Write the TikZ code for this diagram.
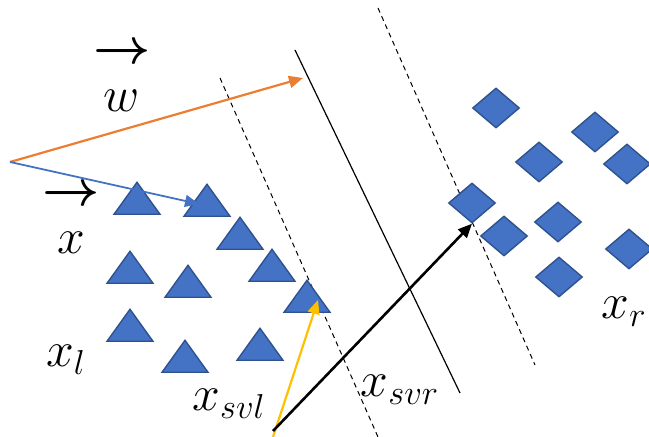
\documentclass[tikz,border=0pt]{standalone}
\usepackage{amsmath, amssymb}
\usetikzlibrary{positioning,arrows.meta,calc,shapes.geometric}
\definecolor{ppblue}{HTML}{4472C4}
\definecolor{ppedge}{HTML}{2F528F}
\definecolor{pporange}{HTML}{ED7D31}
\definecolor{ppyellow}{HTML}{FFC000}
\tikzset{
  vecarrow/.style={-{Triangle[length=7pt, width=6pt]}, line width=1.1pt},
  triclass/.style={draw=ppedge, fill=ppblue, line width=0.7pt, isosceles triangle, isosceles triangle stretches, shape border rotate=90, minimum width=23pt, minimum height=16pt, inner sep=0pt, anchor=lower side},
  diaclass/.style={draw=ppedge, fill=ppblue, line width=0.7pt, diamond, minimum width=23.5pt, minimum height=20pt, inner sep=0pt},
  marginline/.style={dashed, line width=0.5pt, dash pattern=on 2.5pt off 2pt},
  mathlabel/.style={font=\fontsize{25}{28}\selectfont, inner sep=0pt, align=center}
}
\begin{document}
\begin{tikzpicture}[x=0.5pt, y=-0.5pt]
  \useasboundingbox (0,0) rectangle (649,437);
  % separating lines
  \coordinate (la) at (220,78);  \coordinate (lb) at (378,437);
  \coordinate (ma) at (295,50);  \coordinate (mb) at (460,393);
  \coordinate (ra) at (378,8);   \coordinate (rb) at (535,365);
  \draw[marginline] (la) -- (lb);
  \draw[line width=0.6pt] (ma) -- (mb);
  \draw[marginline] (ra) -- (rb);
  % left class
  \node[triclass] (t1) at (137,215) {};
  \node[triclass] (t2) at (207,217) {};
  \node[triclass] (t3) at (240,250) {};
  \node[triclass] (t4) at (272,282) {};
  \node[triclass] (t5) at (307,313) {};
  \node[triclass] (t6) at (130,284) {};
  \node[triclass] (t7) at (188,298) {};
  \node[triclass] (t8) at (130,342) {};
  \node[triclass] (t9) at (185,373) {};
  \node[triclass] (t10) at (260,361) {};
  % right class
  \node[diaclass] (d1) at (496,108) {};
  \node[diaclass] (d2) at (595,132) {};
  \node[diaclass] (d3) at (539,162) {};
  \node[diaclass] (d4) at (627,164) {};
  \node[diaclass] (d5) at (472,203) {};
  \node[diaclass] (d6) at (504,236) {};
  \node[diaclass] (d7) at (558,222) {};
  \node[diaclass] (d8) at (629,249) {};
  \node[diaclass] (d9) at (559,277) {};
  % vectors
  \coordinate (o) at (10,162);
  \coordinate (wend) at (303,78);
  \coordinate (xend) at (199,204);
  \coordinate (svlend) at (318,300);
  \coordinate (svlbase) at (273,437);
  \coordinate (svrbase) at (273,431);
  \draw[vecarrow, pporange] (o) -- (wend);
  \draw[vecarrow, ppblue, line width=0.9pt] (o) -- (xend);
  \draw[vecarrow, ppyellow] (svlbase) -- (svlend);
  \draw[vecarrow, black, line width=1.3pt] (svrbase) -- (d5.south);
  % labels
  \node[mathlabel] (wlab) at (122,78) {$\boldsymbol{\rightarrow}$\\[-4pt]$w$};
  \node[mathlabel] (xlab) at (71,220) {$\boldsymbol{\rightarrow}$\\[-4pt]$x$};
  \node[mathlabel] (xl) at (66,360) {$x_l$};
  \node[mathlabel] (xsvl) at (229,404) {$x_{svl}$};
  \node[mathlabel] (xsvr) at (400,390) {$x_{svr}$};
  \node[mathlabel] (xr) at (624,312) {$x_r$};
\end{tikzpicture}
\end{document}
